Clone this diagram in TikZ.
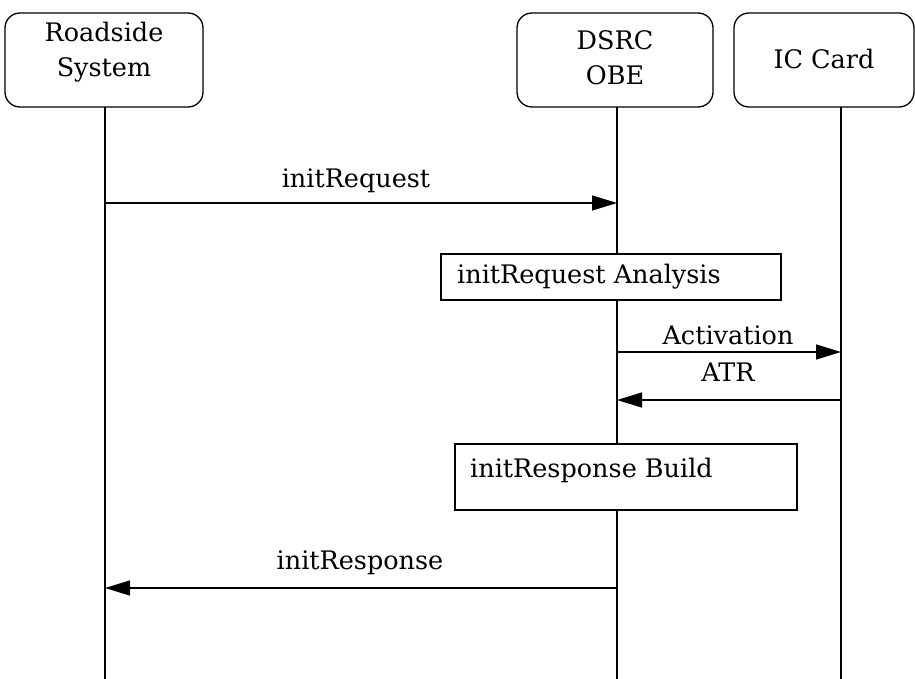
\documentclass[tikz,border=0pt]{standalone}
\usepackage{fontspec}
\setmainfont{DejaVu Serif}
\usetikzlibrary{arrows.meta}
\begin{document}
\begin{tikzpicture}[x=1pt,y=-1pt,
  every node/.style={font=\fontsize{25.5}{35}\selectfont},
  actor/.style={draw,line width=1.3pt,rounded corners=15pt,inner sep=0pt},
  activity/.style={draw,line width=1.3pt,inner sep=0pt},
  life/.style={line width=1.3pt},
  msg/.style={line width=1.3pt,-{Triangle[length=25pt,width=15pt]}},
  lbl/.style={inner sep=0pt,anchor=center}]
\useasboundingbox (0,0) rectangle (915,679);
% actor heads
\draw[actor] (5,13) rectangle (203,107);
\draw[actor] (517,13) rectangle (713,107);
\draw[actor] (734,13) rectangle (914,107);
\node[lbl,align=center] (rs) at (104,52) {Roadside\\System};
\node[lbl,align=center] (obe) at (615,58) {DSRC\\OBE};
\node[lbl] (ic) at (824,59) {IC Card};
% lifelines
\coordinate (rsTop) at (105,107);
\coordinate (rsBot) at (105,679);
\coordinate (obeTop) at (617,107);
\coordinate (obeBot) at (617,679);
\coordinate (icTop) at (841,107);
\coordinate (icBot) at (841,679);
\draw[life] (rsTop) -- (rsBot);
\draw[life] (obeTop) -- (obeBot);
\draw[life] (icTop) -- (icBot);
% activity boxes
\draw[activity,fill=white] (441,254) rectangle (781,300);
\node[lbl,anchor=west] (ana) at (457,277) {initRequest Analysis};
\draw[activity,fill=white] (455,444) rectangle (797,510);
\node[lbl,anchor=west] (bld) at (470,470) {initResponse Build};
% message anchor points
\coordinate (m1s) at (105,203);
\coordinate (m1e) at (617,203);
\coordinate (m2s) at (617,352);
\coordinate (m2e) at (841,352);
\coordinate (m3s) at (841,400);
\coordinate (m3e) at (617,400);
\coordinate (m4s) at (617,588);
\coordinate (m4e) at (105,588);
% messages
\draw[msg] (m1s) -- (m1e);
\draw[msg] (m2s) -- (m2e);
\draw[msg] (m3s) -- (m3e);
\draw[msg] (m4s) -- (m4e);
\node[lbl] (l1) at (356,181) {initRequest};
\node[lbl] (l2) at (728,335) {Activation};
\node[lbl] (l3) at (728,372) {ATR};
\node[lbl] (l4) at (360,563) {initResponse};
\end{tikzpicture}
\end{document}
